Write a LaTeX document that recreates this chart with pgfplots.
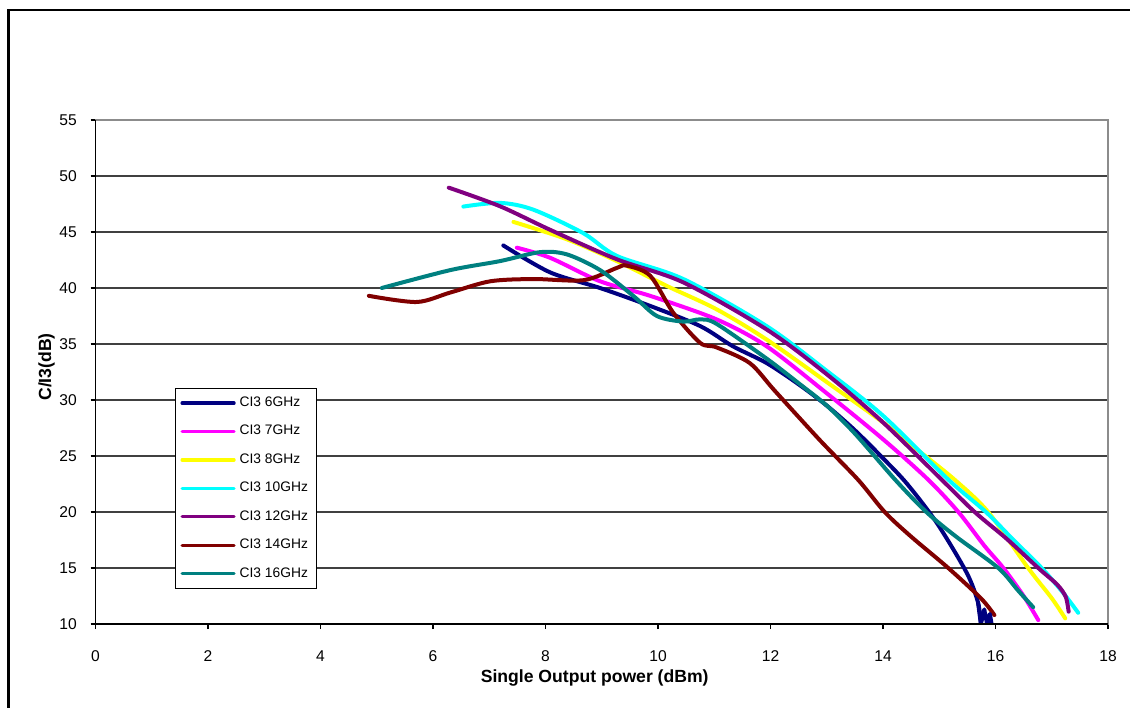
\documentclass[border=0pt]{standalone}
\usepackage{pgfplots}
\pgfplotsset{compat=1.18}
\usepackage{fontspec}
\setmainfont{Liberation Sans}
\definecolor{cnavy}{RGB}{0,0,128}
\definecolor{cmag}{RGB}{255,0,255}
\definecolor{cyel}{RGB}{255,255,0}
\definecolor{ccyan}{RGB}{0,255,255}
\definecolor{cpurp}{RGB}{128,0,128}
\definecolor{cbrown}{RGB}{128,0,0}
\definecolor{cteal}{RGB}{0,128,128}
\begin{document}
\begin{tikzpicture}
\useasboundingbox (0,0) rectangle (565pt,353.5pt);
\draw[line width=1.4pt] (4.4pt,-1pt) -- (4.4pt,348.5pt) -- (567pt,348.5pt);
\begin{axis}[
  at={(47.75pt,41.5pt)}, anchor=south west,
  scale only axis, width=506.25pt, height=252pt,
  xmin=0, xmax=18, ymin=10, ymax=55,
  xtick={0,2,...,18}, ytick={10,15,...,55},
  ymajorgrids, grid style={line width=0.6pt, black!75},
  axis line style={line width=0.6pt, black!45},
  tick style={line width=0.6pt, black},
  tick align=outside, tick pos=left, major tick length=2.5pt,
  /pgf/number format/assume math mode=true,
  ticklabel style={font=\fontsize{7.8}{8}\selectfont},
  xticklabel style={yshift=-7.5pt},
  yticklabel style={xshift=-3.3pt},
  xlabel={Single Output power (dBm)},
  ylabel={C/I3(dB)},
  every axis x label/.style={at={([yshift=-27pt]axis description cs:0.493,0)}, anchor=center, font=\fontsize{8.8}{10}\selectfont\bfseries},
  every axis y label/.style={at={([xshift=-24.5pt]axis description cs:0,0.51)}, anchor=center, rotate=90, font=\fontsize{8.8}{10}\selectfont\bfseries},
  every axis plot/.append style={line width=2pt, line cap=round, line join=round},
  legend style={at={(0.0785,0.4677)}, anchor=north west, draw=black, line width=0.5pt, fill=white,
    font=\fontsize{6.9}{7}\selectfont, inner xsep=2.5pt, inner ysep=2pt, row sep=3.9pt, cells={anchor=west}},
  legend image code/.code={\draw[#1, line width=1.6pt] (2pt,0pt) -- (28pt,0pt);},
  after end axis/.code={\draw[black, line width=0.7pt] (rel axis cs:0,1) -- (rel axis cs:0,0) -- (rel axis cs:1,0);},
]
\addplot[cnavy, smooth, tension=0.5] coordinates {
(7.25,43.8)(8.08,41.4)(8.97,40.0)(9.86,38.4)(10.75,36.6)(11.33,34.8)(11.93,33.3)(12.5,31.4)(13,29.5)(13.5,27.3)(14,24.8)(14.43,22.5)(14.96,19)(15.49,14.55)(15.69,11.9)(15.74,10.0)};
\addlegendentry{CI3 6GHz}
\addplot[cmag, smooth, tension=0.5] coordinates {
(7.49,43.6)(8.08,42.7)(8.97,40.6)(9.86,39.3)(11.04,37.2)(11.93,34.8)(13,30.6)(14,26.5)(14.8,22.9)(15.34,20)(15.8,17)(16.14,15)(16.5,12.5)(16.76,10.35)};
\addlegendentry{CI3 7GHz}
\addplot[cyel, smooth, tension=0.5] coordinates {
(7.43,45.9)(8.38,44.35)(9.27,42.4)(10.15,40.2)(11.04,38.1)(11.93,35.4)(13,31.6)(14,28.0)(14.6,25.6)(15.27,22.9)(15.87,20)(16.58,15)(17.0,12.3)(17.24,10.5)};
\addlegendentry{CI3 8GHz}
\addplot[ccyan, smooth, tension=0.5] coordinates {
(6.54,47.27)(7.19,47.6)(7.78,47.0)(8.67,44.9)(9.27,42.86)(10.45,40.8)(11.93,36.6)(13,32.6)(14,28.6)(15.16,22.9)(15.83,20)(16.3,17.6)(16.82,15)(17.2,12.8)(17.47,11)};
\addlegendentry{CI3 10GHz}
\addplot[cpurp, smooth, tension=0.5] coordinates {
(6.28,48.96)(7.19,47.3)(8.08,45.2)(9.27,42.56)(10.45,40.5)(11.93,36.3)(13,32.3)(14,28.0)(15.04,22.9)(15.63,20)(16.2,17.6)(16.76,15)(17.1,13.5)(17.25,12.4)(17.3,11.1)};
\addlegendentry{CI3 12GHz}
\addplot[cbrown, smooth, tension=0.5] coordinates {
(4.86,39.3)(5.71,38.75)(6.31,39.6)(7.02,40.6)(7.79,40.8)(8.68,40.7)(9.27,41.8)(9.44,42.0)(9.86,41.1)(10.27,37.8)(10.75,35.1)(11.04,34.7)(11.63,33.3)(12.08,30.8)(12.88,26.4)(13.56,22.86)(14.03,20)(14.5,17.8)(15.16,15)(15.74,12.3)(15.98,10.8)};
\addlegendentry{CI3 14GHz}
\addplot[cteal, smooth, tension=0.5] coordinates {
(5.09,40.0)(6.31,41.6)(7.19,42.4)(7.9,43.2)(8.38,43.0)(8.97,41.6)(9.56,39.3)(9.98,37.5)(10.45,37.0)(10.75,37.2)(11.04,36.8)(11.93,33.7)(12.5,31.5)(13,29.5)(13.5,27)(14.22,22.86)(14.77,20)(15.3,17.8)(16.05,15)(16.4,13)(16.67,11.5)};
\addlegendentry{CI3 16GHz}
\addplot[cnavy, forget plot] coordinates {
(15.69,11.9)(15.74,10.0)(15.8,11.3)(15.85,10.0)(15.9,10.9)(15.93,10.0)};
\end{axis}
\end{tikzpicture}
\end{document}
